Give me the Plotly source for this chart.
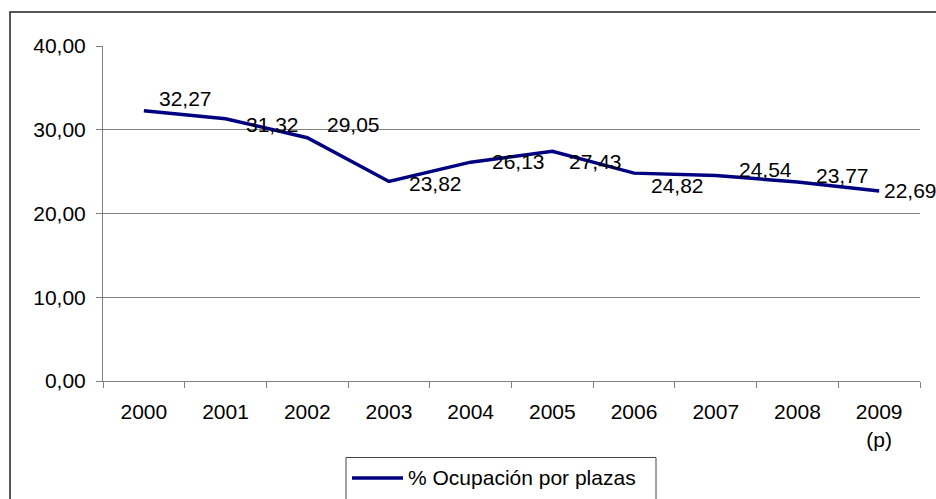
import plotly.graph_objects as go

# ---- data ----
years = ["2000", "2001", "2002", "2003", "2004", "2005", "2006", "2007", "2008", "2009<br>(p)"]
ocupacion = [32.27, 31.32, 29.05, 23.82, 26.13, 27.43, 24.82, 24.54, 23.77, 22.69]
series_name = "% Ocupación por plazas"

# ---- label placement (style offsets, px: right of point, down from point) ----
label_dx = [13, 18, 18, 18, 19, 15, 15, 21, 17, 3]
label_dy = [-12, 6, -13, 2, -1, 10, 12, -6, -6, 0]

FONT = "Arial, 'Liberation Sans', sans-serif"
FS = 21
NAVY = "#000080"
GRAY = "#808080"

fig = go.Figure()
fig.add_trace(go.Scatter(
    x=years, y=ocupacion, mode="lines", name=series_name,
    line=dict(color=NAVY, width=3.5), showlegend=False, hoverinfo="x+y",
))

annotations = []
for i, (v, dx, dy) in enumerate(zip(ocupacion, label_dx, label_dy)):
    annotations.append(dict(
        x=i, y=v, xref="x", yref="y", text=f"{v:.2f}".replace(".", ","),
        showarrow=False, xanchor="left", yanchor="middle",
        xshift=dx, yshift=-dy, font=dict(family=FONT, size=FS, color="black"),
    ))

# manual legend (Excel style)
PL, PW, PB, PH = 103, 817, 381, 335
def px(x):
    return (x - PL) / PW
def py(y):
    return (PB - y) / PH

annotations.append(dict(
    x=px(406), y=py(477), xref="paper", yref="paper", text=series_name,
    showarrow=False, xanchor="left", yanchor="middle",
    font=dict(family=FONT, size=FS, color="black"),
))

shapes = [
    # chart area border
    dict(type="rect", xref="paper", yref="paper", x0=px(10), x1=px(960), y0=py(12), y1=py(540),
         line=dict(color="#222222", width=1.5), fillcolor="rgba(0,0,0,0)", layer="above"),
    # legend box
    dict(type="rect", xref="paper", yref="paper", x0=px(346), x1=px(656), y0=py(457.5), y1=py(540),
         line=dict(color="#444444", width=1), fillcolor="white", layer="above"),
    # legend line
    dict(type="line", xref="paper", yref="paper", x0=px(352), x1=px(403), y0=py(478), y1=py(478),
         line=dict(color=NAVY, width=3.5), layer="above"),
]

fig.update_layout(
    width=936, height=499,
    margin=dict(l=103, r=16, t=46, b=118),
    paper_bgcolor="white", plot_bgcolor="white",
    font=dict(family=FONT, size=FS, color="black"),
    separators=",.",
    showlegend=False,
    annotations=annotations,
    shapes=shapes,
)
fig.update_xaxes(
    type="category", range=[-0.5, 9.5], tickson="boundaries",
    ticks="outside", ticklen=6, tickcolor=GRAY, tickwidth=1,
    showline=True, linecolor=GRAY, linewidth=1, showgrid=False,
    ticklabelstandoff=12,
    tickfont=dict(family=FONT, size=FS, color="black"),
)
fig.update_yaxes(
    range=[0, 40], dtick=10, tick0=0, tickformat=".2f",
    ticks="outside", ticklen=6, tickcolor=GRAY, tickwidth=1,
    showline=True, linecolor=GRAY, linewidth=1,
    showgrid=True, gridcolor=GRAY, gridwidth=1, zeroline=False,
    ticklabelstandoff=6,
    tickfont=dict(family=FONT, size=FS, color="black"),
)

fig.write_html(
    "out.html",
    config={"displayModeBar": False},
    post_script="document.body.style.margin='0';document.body.style.overflow='hidden';",
)
